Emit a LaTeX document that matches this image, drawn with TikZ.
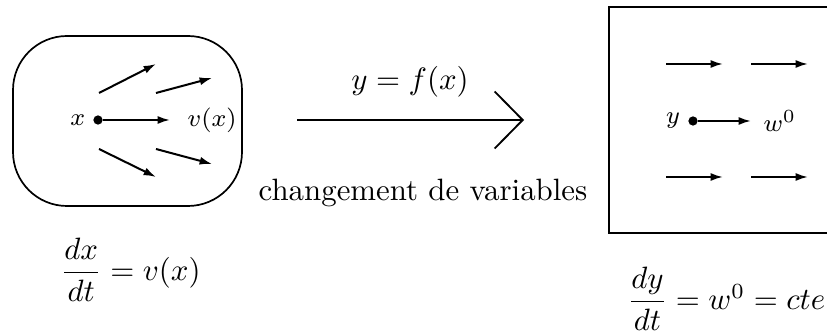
\documentclass[tikz,border=0pt]{standalone}
\usepackage{amsmath}
\usetikzlibrary{arrows.meta}

\begin{document}
\begin{tikzpicture}[x=0.324pt,y=-0.324pt,
  vec/.style={line width=0.65pt,-{Latex[length=4pt,width=2.6pt]}},
  maparrow/.style={line width=0.6pt,-{Straight Barb[length=9.1pt,width=18.5pt,line width=0.6pt]}},
  pt/.style={circle,fill,inner sep=0pt,minimum size=3pt},
  lbl/.style={font=\footnotesize,inner sep=1pt}]
\useasboundingbox (0,0) rectangle (827,334);
% left domain
\draw[line width=0.55pt,rounded corners=17.5pt] (13,36) rectangle (242,206);
\node[pt] (xdot) at (98,120) {};
\node[lbl,left=3pt] (xlbl) at (xdot) {$x$};
\coordinate (vend) at (170,120);
\draw[vec] (xdot) -- (vend);
\node[lbl,anchor=west] (vlbl) at (184,120) {$v(x)$};
\foreach \a/\b/\c/\d in {99/93/156/64,156/93/212/78,99/149/156/177,156/149/212/164}
  \draw[vec] (\a,\b) -- (\c,\d);
\node[anchor=west,inner sep=0pt] (eqx) at (60,270) {$\dfrac{dx}{dt} = v(x)$};
% change of variables
\coordinate (mapfrom) at (297,120);
\coordinate (mapto) at (524,120);
\draw[maparrow] (mapfrom) -- (mapto);
\node (maplbl) at (410,82) {$y = f(x)$};
\node (chglbl) at (423,193) {changement de variables};
% right domain
\draw[line width=0.55pt] (827,7) -- (609,7) -- (609,233) -- (827,233);
\foreach \row in {64,177}
  \foreach \col in {666,751}
    \draw[vec] (\col,\row) -- ++(57,0);
\node[pt] (ydot) at (693,121) {};
\node[lbl,left=3pt] (ylbl) at (ydot) {$y$};
\coordinate (wend) at (751,121);
\draw[vec] (ydot) -- (wend);
\node[lbl,anchor=west] (wlbl) at (760,121) {$w^0$};
\node[anchor=west,inner sep=0pt] (eqy) at (627,299) {$\dfrac{dy}{dt} = w^0 = cte$};
\end{tikzpicture}
\end{document}
